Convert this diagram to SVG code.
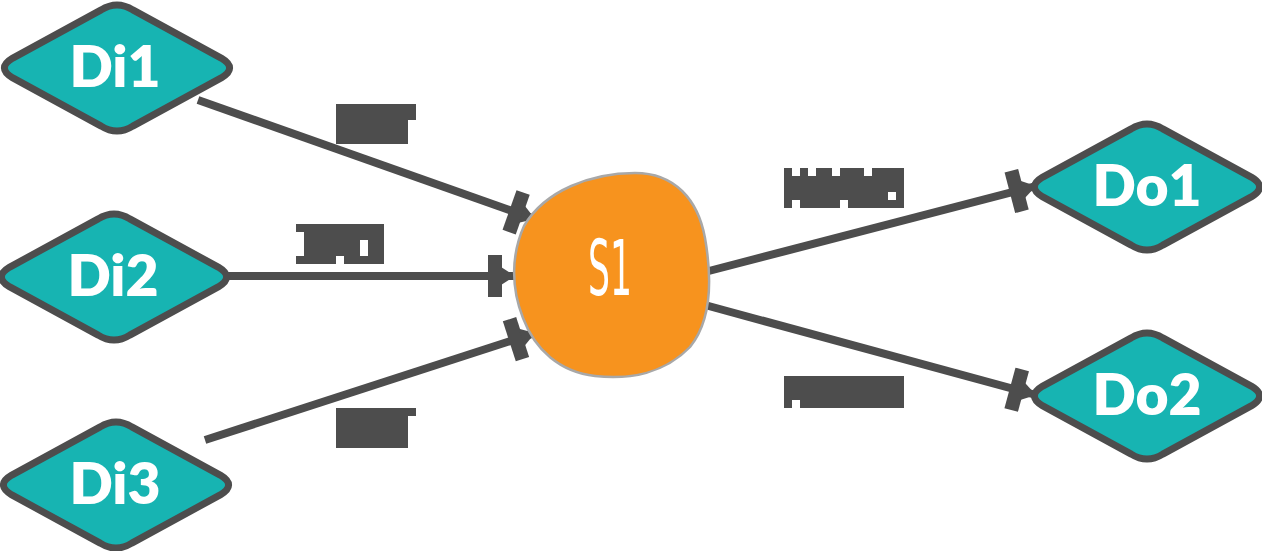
<svg xmlns="http://www.w3.org/2000/svg" width="1262" height="551" viewBox="0 0 1262 551">
  <style>
    .diamond { fill: #17b4b2; stroke: #4d4d4d; stroke-width: 7; stroke-linejoin: round; }
    .dlabel { fill: #ffffff; font-family: "Lato", "Liberation Sans", sans-serif; font-weight: 800; font-size: 57px; text-anchor: middle; }
    .conn { stroke: #4d4d4d; stroke-width: 8; fill: none; }
    .block { fill: #4d4d4d; }
  </style>
  <defs>
    <path id="dia" class="diamond" d="M -104.2,-9.9 L -15.8,-58.1 Q 0,-68 15.8,-58.1 L 104.2,-9.9 Q 121,0 104.2,9.9 L 15.8,58.1 Q 0,68 -15.8,58.1 L -104.2,9.9 Q -121,0 -104.2,-9.9 Z"/>
    <marker id="endm" markerUnits="userSpaceOnUse" markerWidth="30" markerHeight="46" refX="28" refY="23" orient="auto" viewBox="0 0 30 46">
      <rect x="1" y="2" width="14" height="42" fill="#4d4d4d"/>
      <path d="M 14,14 L 28,23 L 14,32 Z" fill="#4d4d4d"/>
    </marker>
  </defs>

  <g id="connectors">
    <line class="conn" x1="198" y1="100" x2="535" y2="219" marker-end="url(#endm)"/>
    <line class="conn" x1="224" y1="276" x2="515" y2="276" marker-end="url(#endm)"/>
    <line class="conn" x1="205" y1="440" x2="535" y2="333" marker-end="url(#endm)"/>
    <line class="conn" x1="705" y1="272" x2="1036" y2="186" marker-end="url(#endm)"/>
    <line class="conn" x1="705" y1="305" x2="1036" y2="395" marker-end="url(#endm)"/>
  </g>

  <g id="labels">
    <path class="block" d="M 336,104 H 416 V 120 H 408 V 144 H 336 Z"/>
    <path class="block" d="M 296,224 H 384 V 264 H 344 V 256 H 336 V 264 H 296 V 256 H 304 V 232 H 296 Z M 360,240 V 256 H 368 V 240 Z" fill-rule="evenodd"/>
    <path class="block" d="M 336,408 H 416 V 416 H 408 V 448 H 336 Z"/>
    <path class="block" d="M 784,168 H 792 V 176 H 800 V 168 H 808 V 176 H 816 V 168 H 832 V 176 H 840 V 168 H 864 V 176 H 872 V 168 H 904 V 208 H 848 V 200 H 840 V 208 H 800 V 200 H 792 V 208 H 784 Z M 888,192 V 200 H 896 V 192 Z" fill-rule="evenodd"/>
    <path class="block" d="M 784,376 H 904 V 408 H 800 V 400 H 792 V 408 H 784 Z"/>
  </g>

  <g id="Di1">
    <use href="#dia" x="117" y="68"/>
    <text class="dlabel" x="115" y="87">Di1</text>
  </g>
  <g id="Di2">
    <use href="#dia" x="114" y="277"/>
    <text class="dlabel" x="113" y="296">Di2</text>
  </g>
  <g id="Di3">
    <use href="#dia" x="116" y="485"/>
    <text class="dlabel" x="115" y="504">Di3</text>
  </g>
  <g id="Do1">
    <use href="#dia" x="1147" y="187"/>
    <text class="dlabel" x="1147" y="206">Do1</text>
  </g>
  <g id="Do2">
    <use href="#dia" x="1147" y="396"/>
    <text class="dlabel" x="1147" y="415">Do2</text>
  </g>

  <g id="S1">
    <path d="M 635,173 C 675,173 698,200 705,238 C 712,278 712,320 690,347 C 665,373 630,380 595,376 C 560,372 535,350 523,318 C 511,288 511,255 524,226 C 545,190 592,173 635,173 Z" fill="#f7931e" stroke="#a8a8a8" stroke-width="2.5"/>
    <text x="610" y="295" fill="#ffffff" font-family="DejaVu Sans Condensed, DejaVu Sans, sans-serif" font-size="76" text-anchor="middle" textLength="44" lengthAdjust="spacingAndGlyphs">S1</text>
  </g>
</svg>
